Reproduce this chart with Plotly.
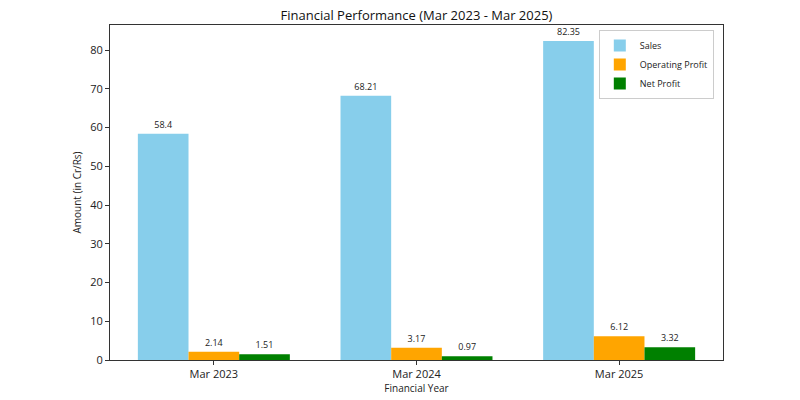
import plotly.graph_objects as go

years = ["Mar 2023", "Mar 2024", "Mar 2025"]
sales = [58.4, 68.21, 82.35]
operating_profit = [2.14, 3.17, 6.12]
net_profit = [1.51, 0.97, 3.32]

series = [
    ("Sales", sales, "#87CEEB"),
    ("Operating Profit", operating_profit, "#FFA500"),
    ("Net Profit", net_profit, "#008000"),
]

FONT = "Open Sans, Roboto, sans-serif"

fig = go.Figure()
for name, vals, color in series:
    fig.add_trace(go.Bar(
        x=years, y=vals, name=name, marker=dict(color=color, line=dict(width=0)),
        text=[str(v) for v in vals], textposition="outside",
        textfont=dict(size=9, color="#222", family=FONT), cliponaxis=False,
    ))

ymax = max(sales) * 1.05
fig.update_layout(
    width=800, height=400,
    margin=dict(l=110, r=77, t=25, b=40),
    paper_bgcolor="white", plot_bgcolor="white",
    barmode="group", bargap=0.25, bargroupgap=0,
    font=dict(family=FONT, color="#222"),
    title=dict(text="Financial Performance (Mar 2023 - Mar 2025)", x=(110 + 723) / 2 / 800,
               xanchor="center", y=0.962, yanchor="middle", font=dict(size=13, color="#111")),
    xaxis=dict(range=[-0.5125, 2.5125], showline=True, linecolor="#333", linewidth=1, mirror=True,
               ticks="outside", ticklen=4, tickcolor="#333", tickfont=dict(size=11),
               automargin=False,
               title=dict(text="Financial Year", font=dict(size=10), standoff=4), showgrid=False),
    yaxis=dict(range=[0, ymax], showline=True, linecolor="#333", linewidth=1, mirror=True,
               ticks="outside", ticklen=4, tickcolor="#333", tickfont=dict(size=11),
               dtick=10, showgrid=False, zeroline=False, automargin=False,
               title=dict(text="Amount (in Cr/Rs)", font=dict(size=10), standoff=6)),
    legend=dict(x=0.985, xanchor="right", y=0.985, yanchor="top", bgcolor="white",
                bordercolor="#ccc", borderwidth=1, font=dict(size=9), tracegroupgap=0,
                itemsizing="constant"),
)

fig.write_html("out.html")
